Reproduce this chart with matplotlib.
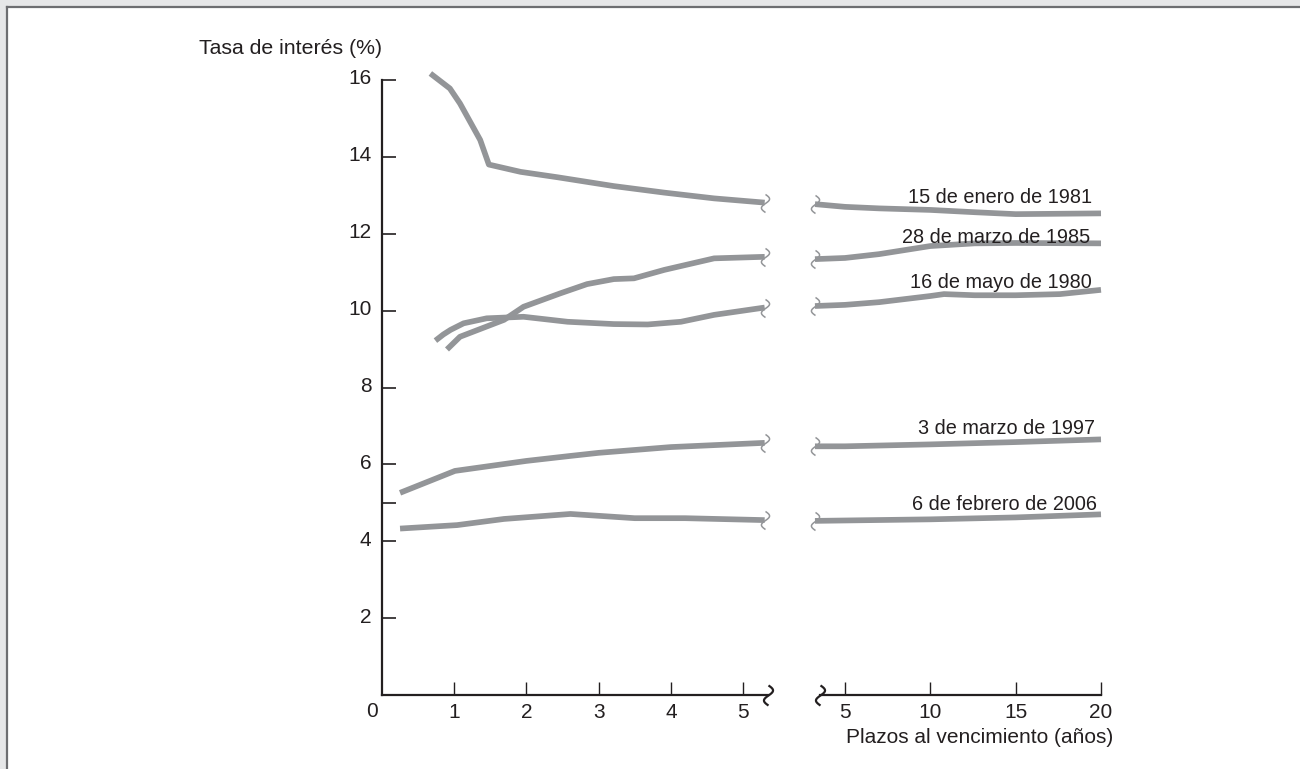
import numpy as np
import matplotlib
matplotlib.use("Agg")
import matplotlib.pyplot as plt
from matplotlib.path import Path
from matplotlib.lines import Line2D
from matplotlib.patches import Rectangle
from matplotlib.transforms import ScaledTranslation

plt.rcParams['font.family'] = ['Liberation Sans', 'DejaVu Sans']

# Curvas de rendimiento: tramo corto (0-5 años) y tramo largo (5-20 años)
x_1981_a = [0.67, 0.94, 1.08, 1.36, 1.48, 1.92, 2.43, 3.21, 3.91, 4.60, 5.30]
y_1981_a = [16.17, 15.78, 15.39, 14.44, 13.80, 13.61, 13.47, 13.24, 13.07, 12.92, 12.81]
x_1981_b = [3.24, 5, 7, 10, 12.6, 15, 20]
y_1981_b = [12.77, 12.70, 12.66, 12.62, 12.56, 12.51, 12.53]

x_1985_a = [0.90, 1.08, 1.69, 1.96, 2.47, 2.84, 3.21, 3.49, 3.91, 4.60, 5.30]
y_1985_a = [8.99, 9.32, 9.76, 10.10, 10.45, 10.69, 10.82, 10.84, 11.06, 11.36, 11.40]
x_1985_b = [3.24, 5, 7, 10, 12.6, 15, 20]
y_1985_b = [11.34, 11.37, 11.47, 11.68, 11.75, 11.76, 11.75]

x_1980_a = [0.74, 0.85, 0.95, 1.13, 1.45, 1.96, 2.57, 3.21, 3.68, 4.14, 4.60, 5.30]
y_1980_a = [9.22, 9.38, 9.50, 9.67, 9.80, 9.84, 9.71, 9.65, 9.64, 9.71, 9.89, 10.08]
x_1980_b = [3.24, 5, 7, 10, 10.8, 12.6, 15, 17.6, 20]
y_1980_b = [10.12, 10.15, 10.22, 10.38, 10.43, 10.40, 10.40, 10.43, 10.54]

x_1997_a = [0.25, 1.01, 2.0, 2.61, 3.0, 4.0, 5.30]
y_1997_a = [5.26, 5.83, 6.09, 6.22, 6.30, 6.45, 6.56]
x_1997_b = [3.24, 5, 10, 15, 20]
y_1997_b = [6.47, 6.47, 6.52, 6.58, 6.65]

x_2006_a = [0.25, 1.04, 1.69, 2.61, 3.5, 4.2, 5.30]
y_2006_a = [4.33, 4.42, 4.58, 4.71, 4.60, 4.60, 4.55]
x_2006_b = [3.24, 10, 15, 20]
y_2006_b = [4.53, 4.57, 4.62, 4.70]

curve_labels = ['15 de enero de 1981', '28 de marzo de 1985', '16 de mayo de 1980',
                '3 de marzo de 1997', '6 de febrero de 2006']
label_x = [19.47, 19.35, 19.47, 19.62, 19.76]
label_y = [12.80, 11.76, 10.59, 6.79, 4.81]

y_ticks = [2, 4, 5, 6, 8, 10, 12, 14, 16]
y_tick_labels = ['2', '4', '', '6', '8', '10', '12', '14', '16']
x_ticks_short = [1, 2, 3, 4, 5]
x_ticks_long = [5, 10, 15, 20]

GRAY = '#939598'
INK = '#231f20'

# marcador de corte (forma de S)
t = np.linspace(-1, 1, 40)
squiggle = Path(np.column_stack([0.45 * np.sin(np.pi * t), t]))

fig = plt.figure(figsize=(13, 7.69), dpi=100, facecolor='#e6e7e8')
fig.patches.append(Rectangle((8 / 1300, 0), 1, 1 - 8 / 769, transform=fig.transFigure,
                             facecolor='white', edgecolor='none', zorder=-5))
fig.lines.append(Line2D([7 / 1300, 7 / 1300], [0, 1 - 7 / 769], transform=fig.transFigure,
                        color='#6d6e71', lw=1.6, zorder=-4))
fig.lines.append(Line2D([7 / 1300, 1], [1 - 7 / 769, 1 - 7 / 769], transform=fig.transFigure,
                        color='#6d6e71', lw=1.6, zorder=-4))

ax1 = fig.add_axes([382 / 1300, 1 - 695 / 769, 386 / 1300, 615 / 769])
ax2 = fig.add_axes([820 / 1300, 1 - 695 / 769, 281 / 1300, 615 / 769])
for ax in (ax1, ax2):
    ax.patch.set_alpha(0)
    ax.set_ylim(0, 16)
    for s in ax.spines.values():
        s.set_visible(False)
    ax.spines['bottom'].set_visible(True)
    ax.spines['bottom'].set_linewidth(1.6)
    ax.spines['bottom'].set_color(INK)
    ax.tick_params(axis='x', direction='in', length=9.5, width=1.0, color=INK,
                   labelsize=15, labelcolor=INK, pad=6)

ax1.set_xlim(0, 5.346)
ax2.set_xlim(3.535, 20)
ax1.spines['left'].set_visible(True)
ax1.spines['left'].set_linewidth(1.6)
ax1.spines['left'].set_color(INK)
ax1.set_yticks(y_ticks)
ax1.set_yticklabels(y_tick_labels)
ax1.tick_params(axis='y', direction='in', length=10, width=1.2, color=INK,
                labelsize=15, labelcolor=INK, pad=7.5)
# etiquetas del eje y un poco por encima de la marca
up = ScaledTranslation(0, 3 / 100, fig.dpi_scale_trans)
for lbl in ax1.get_yticklabels():
    lbl.set_transform(lbl.get_transform() + up)
ax1.set_xticks(x_ticks_short)
ax2.set_xticks(x_ticks_long)
ax2.set_yticks([])

short = [(x_1981_a, y_1981_a), (x_1985_a, y_1985_a), (x_1980_a, y_1980_a),
         (x_1997_a, y_1997_a), (x_2006_a, y_2006_a)]
long_ = [(x_1981_b, y_1981_b), (x_1985_b, y_1985_b), (x_1980_b, y_1980_b),
         (x_1997_b, y_1997_b), (x_2006_b, y_2006_b)]

for xs, ys in short:
    ax1.plot(xs, ys, color=GRAY, lw=4.1, solid_capstyle='butt', solid_joinstyle='round',
             clip_on=False)
    ax1.plot([xs[-1]], [ys[-1]], marker=squiggle, ms=13, mfc='none', mec=GRAY, mew=1.1,
             ls='none', clip_on=False)
for xs, ys in long_:
    ax2.plot(xs, ys, color=GRAY, lw=4.1, solid_capstyle='butt', solid_joinstyle='round',
             clip_on=False)
    ax2.plot([xs[0]], [ys[0]], marker=squiggle, ms=13, mfc='none', mec=GRAY, mew=1.1,
             ls='none', clip_on=False)

for txt, lx, ly in zip(curve_labels, label_x, label_y):
    ax2.text(lx, ly, txt, ha='right', va='baseline', fontsize=14.3, color=INK)

# cortes del eje x
ax1.plot([5.346], [0], marker=squiggle, ms=14.5, mfc='none', mec=INK, mew=1.6,
         ls='none', clip_on=False)
ax2.plot([3.535], [0], marker=squiggle, ms=14.5, mfc='none', mec=INK, mew=1.6,
         ls='none', clip_on=False)

fig.text(372 / 1300, 1 - 717 / 769, '0', ha='center', va='baseline', fontsize=15, color=INK)
fig.text(382 / 1300, 1 - 54 / 769, 'Tasa de interés (%)', ha='right', va='baseline',
         fontsize=15.3, color=INK)
fig.text(1113 / 1300, 1 - 743 / 769, 'Plazos al vencimiento (años)', ha='right',
         va='baseline', fontsize=15, color=INK)

fig.savefig('out.png', dpi=100, facecolor=fig.get_facecolor())
